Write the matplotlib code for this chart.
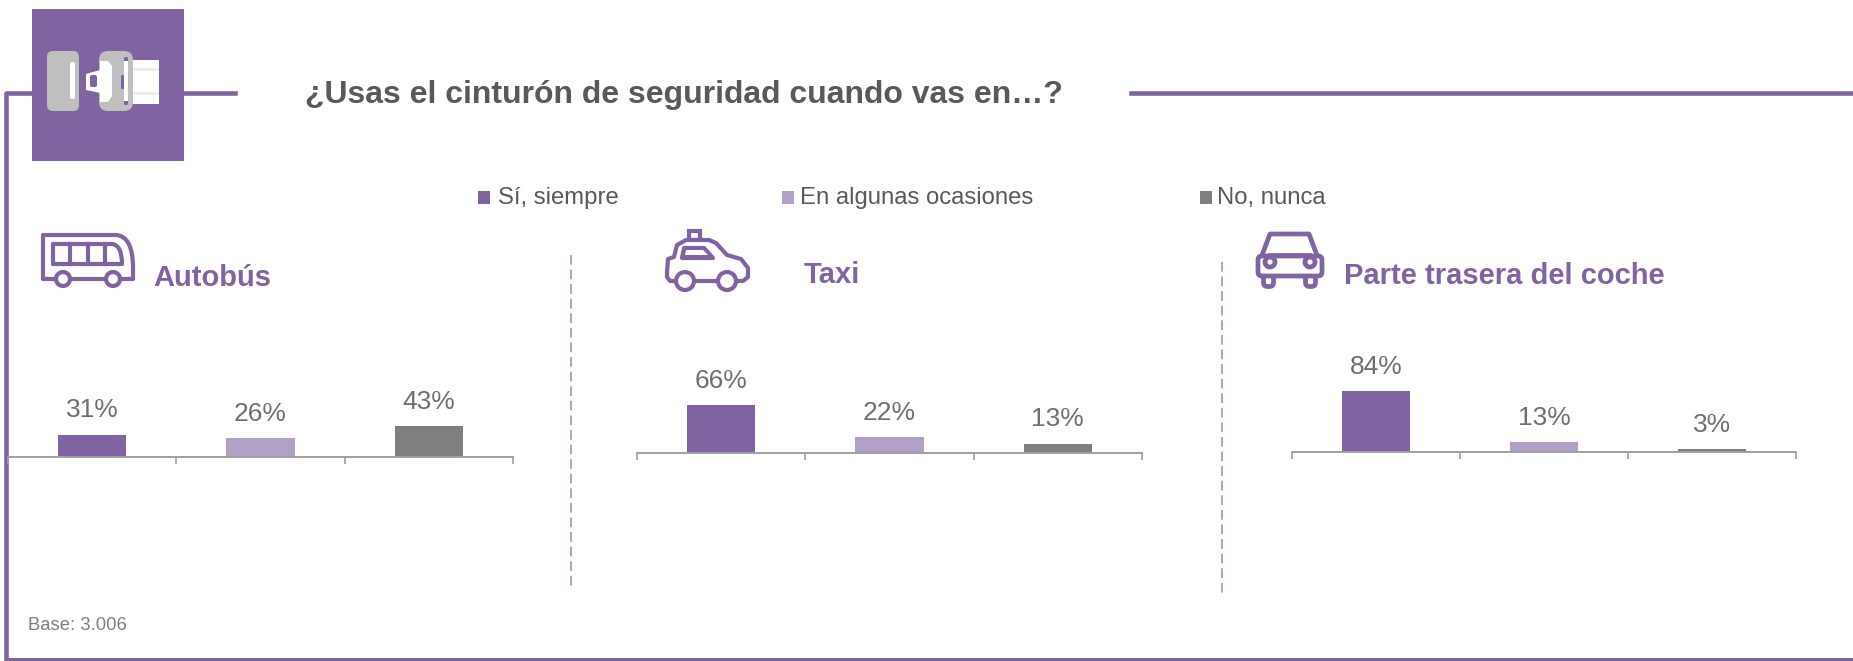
import matplotlib
matplotlib.use("Agg")
import matplotlib.pyplot as plt
from matplotlib.patches import Rectangle, FancyBboxPatch, Polygon, Circle, PathPatch
from matplotlib.path import Path

plt.rcParams['font.family'] = ['Liberation Sans', 'DejaVu Sans']

W, H = 1853, 661
PURPLE = "#8064A2"
LILAC = "#B2A1C7"
GREY = "#7F7F7F"
TEXT = "#595959"

# data
series = ["Sí, siempre", "En algunas ocasiones", "No, nunca"]
autobus = [31, 26, 43]
taxi = [66, 22, 13]
trasera = [84, 13, 3]
panel_names = ["Autobús", "Taxi", "Parte trasera del coche"]
colors = [PURPLE, LILAC, GREY]

fig = plt.figure(figsize=(W / 100, H / 100), dpi=100)

# overlay in pixel coordinates for the frame, icons and texts
bg = fig.add_axes([0, 0, 1, 1])
bg.set_xlim(0, W)
bg.set_ylim(H, 0)
bg.axis("off")

# frame
bg.plot([235, 5.5, 5.5], [92.5, 92.5, 659], color=PURPLE, lw=3.3, solid_joinstyle="round")
bg.plot([5.5, W], [659, 659], color=PURPLE, lw=2.2)
bg.plot([1131, W], [92.5, 92.5], color=PURPLE, lw=3.3)
bg.add_patch(Rectangle((32, 9), 152, 152, fc=PURPLE, ec="none", zorder=3))


def rounded(x0, y0, x1, y1, color, r=5, z=4):
    bg.add_patch(FancyBboxPatch((x0 + r, y0 + r), x1 - x0 - 2 * r, y1 - y0 - 2 * r,
                                boxstyle=f"round,pad={r},rounding_size={r}",
                                fc=color, ec="none", zorder=z))


# seat belt icon
rounded(47, 51, 79, 111, "#BFBFBF", r=6)
rounded(70, 62, 75, 99, "white", r=2, z=5)
bg.add_patch(Rectangle((124, 60), 35, 44, fc="white", ec="none", zorder=4))
bg.add_patch(Rectangle((124, 68), 35, 2.5, fc="#EDEDED", ec="none", zorder=4.1))
bg.add_patch(Rectangle((124, 92), 35, 3, fc="#EDEDED", ec="none", zorder=4.1))
rounded(99, 51, 133, 111, "#BFBFBF", r=9, z=5)
bg.add_patch(Polygon([(86, 74), (100, 70), (100, 61), (108, 61), (112, 66), (112, 96),
                      (108, 102), (100, 102), (100, 93), (86, 90)],
                     fc="white", ec="none", zorder=6))
rounded(90, 75, 97, 87, PURPLE, r=2, z=7)
rounded(121, 75, 125, 89, PURPLE, r=1, z=6)
rounded(124, 57, 128, 105, PURPLE, r=1.5, z=6)
bg.add_patch(Rectangle((124, 61), 4, 40, fc="white", ec="none", zorder=7))

lw_ic = 3.0

# bus icon
bus_path = Path([(43, 235), (116, 235), (133, 236), (133, 268), (133, 279), (43, 279), (43, 235)],
                [Path.MOVETO, Path.LINETO, Path.CURVE3, Path.CURVE3, Path.LINETO, Path.LINETO, Path.CLOSEPOLY])
bg.add_patch(PathPatch(bus_path, fc="white", ec=PURPLE, lw=lw_ic, joinstyle="round"))
win_path = Path([(53, 244), (112, 244), (122, 245), (122, 264), (53, 264), (53, 244)],
                [Path.MOVETO, Path.LINETO, Path.CURVE3, Path.CURVE3, Path.LINETO, Path.CLOSEPOLY])
bg.add_patch(PathPatch(win_path, fc="white", ec=PURPLE, lw=lw_ic, joinstyle="round"))
for x in [70, 87.5, 105]:
    bg.plot([x, x], [244, 264], color=PURPLE, lw=lw_ic)
for x in [63, 113]:
    bg.add_patch(Circle((x, 279), 7, fc="white", ec=PURPLE, lw=lw_ic, zorder=3))

# taxi icon
bg.add_patch(Rectangle((689, 231), 11, 9, fc="white", ec=PURPLE, lw=lw_ic))
bg.add_patch(Polygon([(667, 273), (668, 259), (674, 257), (677, 245), (686, 240), (709, 240),
                      (716, 243), (727, 255), (741, 259), (748, 268), (748, 277), (743, 281),
                      (670, 281), (667, 277)],
                     fc="white", ec=PURPLE, lw=lw_ic, joinstyle="round"))
bg.add_patch(Polygon([(684, 248), (704, 248), (713, 258), (682, 258)],
                     fc=PURPLE, ec=PURPLE, lw=lw_ic, joinstyle="round"))
bg.add_patch(Polygon([(686, 250), (703, 250), (708, 255), (685, 255)],
                     fc="white", ec="none"))
for x in [685, 727]:
    bg.add_patch(Circle((x, 281), 9, fc="white", ec=PURPLE, lw=lw_ic, zorder=3))

# car icon, seen from the front
lw_car = 3.4
for x0 in [1263, 1305]:
    bg.add_patch(FancyBboxPatch((x0 + 3, 272), 5, 12, boxstyle="round,pad=2.5,rounding_size=4",
                                fc="white", ec=PURPLE, lw=lw_car, zorder=2))
bg.add_patch(Polygon([(1261, 258), (1270, 234), (1309, 234), (1318, 258)],
                     fc="white", ec=PURPLE, lw=lw_car, joinstyle="round", zorder=3))
bg.add_patch(FancyBboxPatch((1262, 260), 56, 12, boxstyle="round,pad=4,rounding_size=4",
                            fc="white", ec=PURPLE, lw=lw_car, zorder=4))
bg.plot([1270, 1309], [255, 255], color=PURPLE, lw=lw_car, zorder=5)
for x in [1270, 1310]:
    bg.add_patch(Circle((x, 262), 5, fc="white", ec=PURPLE, lw=lw_car, zorder=5))

# texts
bg.text(305, 95, "¿Usas el cinturón de seguridad cuando vas en…?", color=TEXT, fontsize=23,
        fontweight="bold", va="center", ha="left")
bg.text(28, 626, "Base: 3.006", color=GREY, fontsize=13.3, va="center", ha="left")

# legend
legend_sq = [478, 782, 1200]
legend_tx = [498, 800, 1217]
for sq, tx, name, c in zip(legend_sq, legend_tx, series, colors):
    bg.add_patch(Rectangle((sq, 191), 12, 13, fc=c, ec="none"))
    bg.text(tx, 198, name, color=TEXT, fontsize=17.2, va="center", ha="left")

# dashed dividers
bg.plot([571, 571], [255, 586], color=LILAC, lw=1.4, dashes=(5, 2.5))
bg.plot([1222, 1222], [262, 593], color=LILAC, lw=1.4, dashes=(5, 2.5))

# panel titles
title_x = [153, 804, 1344]
title_y = [278, 275, 276]
for x, y, name in zip(title_x, title_y, panel_names):
    bg.text(x, y, name, color=PURPLE, fontsize=21, fontweight="bold", va="center", ha="left")


# bar panels, placed by pixels: left, right, baseline
def bar_panel(x0, x1, base, values):
    ax = fig.add_axes([x0 / W, 1 - base / H, (x1 - x0) / W, 72 / H])
    ax.patch.set_alpha(0)
    ax.set_xlim(0, 3)
    ax.set_ylim(0, 100)
    pos = [0.5, 1.5, 2.5]
    ax.bar(pos, values, width=0.405, color=colors)
    for p, v in zip(pos, values):
        ax.annotate(f"{v}%", (p, v), xytext=(0, 12.5), textcoords="offset points",
                    ha="center", va="baseline", fontsize=19, color="#6F6F6F", clip_on=False)
    for s in ["top", "left", "right"]:
        ax.spines[s].set_visible(False)
    ax.spines["bottom"].set_color("#A0A0A0")
    ax.spines["bottom"].set_linewidth(1.4)
    ax.set_yticks([])
    ax.set_xticks([0, 1, 2, 3])
    ax.set_xticklabels([])
    ax.tick_params(axis="x", length=5, width=1.2, color="#A0A0A0")
    return ax


bar_panel(8, 513, 457, autobus)
bar_panel(637, 1142, 453, taxi)
bar_panel(1292, 1796, 451.5, trasera)

fig.savefig("out.png", dpi=100)
